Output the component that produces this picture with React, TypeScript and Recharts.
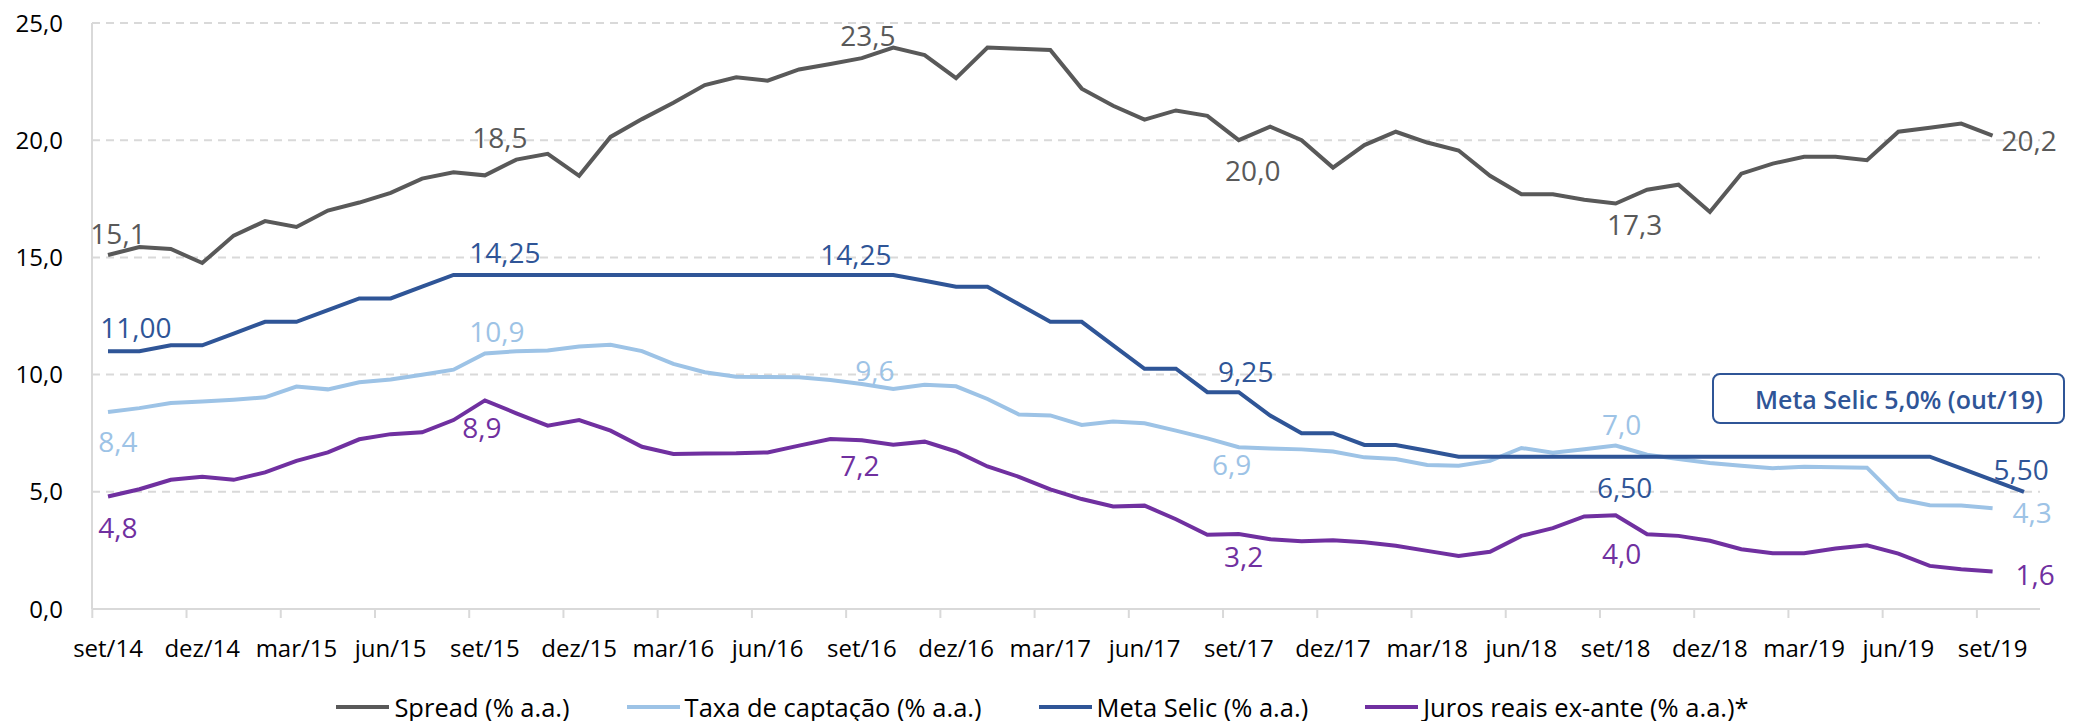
import { LineChart, Line, XAxis, YAxis, CartesianGrid, Legend, LabelList } from 'recharts';

const months = [
  'set/14', 'out/14', 'nov/14', 'dez/14', 'jan/15', 'fev/15', 'mar/15', 'abr/15', 'mai/15', 'jun/15', 'jul/15', 'ago/15',
  'set/15', 'out/15', 'nov/15', 'dez/15', 'jan/16', 'fev/16', 'mar/16', 'abr/16', 'mai/16', 'jun/16', 'jul/16', 'ago/16',
  'set/16', 'out/16', 'nov/16', 'dez/16', 'jan/17', 'fev/17', 'mar/17', 'abr/17', 'mai/17', 'jun/17', 'jul/17', 'ago/17',
  'set/17', 'out/17', 'nov/17', 'dez/17', 'jan/18', 'fev/18', 'mar/18', 'abr/18', 'mai/18', 'jun/18', 'jul/18', 'ago/18',
  'set/18', 'out/18', 'nov/18', 'dez/18', 'jan/19', 'fev/19', 'mar/19', 'abr/19', 'mai/19', 'jun/19', 'jul/19', 'ago/19',
  'set/19', 'out/19',
];

// set/14 .. set/19
const spread = [
  15.1, 15.44, 15.36, 14.76, 15.93, 16.55, 16.3, 17.0, 17.34, 17.75,
  18.36, 18.63, 18.5, 19.17, 19.42, 18.48, 20.14, 20.9, 21.6, 22.35,
  22.68, 22.54, 23.02, 23.25, 23.5, 23.95, 23.63, 22.65, 23.95, 23.9,
  23.85, 22.2, 21.47, 20.88, 21.27, 21.04, 20.0, 20.58, 20.0, 18.83,
  19.79, 20.36, 19.9, 19.56, 18.48, 17.69, 17.69, 17.46, 17.3, 17.89,
  18.1, 16.94, 18.57, 19.0, 19.29, 19.29, 19.15, 20.36, 20.53, 20.71,
  20.2,
];

const captacao = [
  8.4, 8.57, 8.79, 8.85, 8.93, 9.03, 9.49, 9.37, 9.67, 9.79,
  9.99, 10.21, 10.9, 11.0, 11.03, 11.2, 11.27, 11.0, 10.46, 10.1,
  9.91, 9.9, 9.89, 9.77, 9.6, 9.39, 9.57, 9.5, 8.96, 8.3,
  8.26, 7.85, 8.0, 7.92, 7.61, 7.28, 6.9, 6.85, 6.81, 6.72,
  6.47, 6.4, 6.14, 6.11, 6.32, 6.87, 6.67, 6.82, 6.97, 6.58,
  6.4, 6.23, 6.11, 6.01, 6.07, 6.05, 6.03, 4.69, 4.43, 4.42,
  4.3,
];

// set/14 .. out/19
const metaSelic = [
  11.0, 11.0, 11.25, 11.25, 11.75, 12.25, 12.25, 12.75, 13.25, 13.25,
  13.75, 14.25, 14.25, 14.25, 14.25, 14.25, 14.25, 14.25, 14.25, 14.25,
  14.25, 14.25, 14.25, 14.25, 14.25, 14.25, 14.0, 13.75, 13.75, 13.0,
  12.25, 12.25, 11.25, 10.25, 10.25, 9.25, 9.25, 8.25, 7.5, 7.5,
  7.0, 7.0, 6.75, 6.5, 6.5, 6.5, 6.5, 6.5, 6.5, 6.5,
  6.5, 6.5, 6.5, 6.5, 6.5, 6.5, 6.5, 6.5, 6.5, 6.0,
  5.5, 5.0,
];

const jurosReais = [
  4.8, 5.11, 5.51, 5.64, 5.51, 5.83, 6.32, 6.68, 7.24, 7.46,
  7.54, 8.06, 8.9, 8.35, 7.82, 8.06, 7.61, 6.92, 6.61, 6.63,
  6.64, 6.68, 6.97, 7.25, 7.2, 7.01, 7.14, 6.72, 6.08, 5.64,
  5.1, 4.69, 4.37, 4.41, 3.83, 3.17, 3.2, 2.98, 2.89, 2.93,
  2.85, 2.7, 2.48, 2.26, 2.44, 3.12, 3.45, 3.95, 4.0, 3.19,
  3.12, 2.91, 2.55, 2.38, 2.38, 2.58, 2.72, 2.36, 1.84, 1.7,
  1.6,
];

const seriesNames = [
  'Spread (% a.a.)',
  'Taxa de captação (% a.a.)',
  'Meta Selic (% a.a.)',
  'Juros reais ex-ante (% a.a.)*',
];

const yTicks = [0, 5, 10, 15, 20, 25];
const labelIdx = [0, 12, 24, 36, 48, 60];

const data = months.map((month, i) => ({
  month,
  spread: spread[i] ?? null,
  captacao: captacao[i] ?? null,
  selic: metaSelic[i] ?? null,
  juros: jurosReais[i] ?? null,
}));

const FONT = '"Open Sans", "Noto Sans", sans-serif';
const CHART_W = 2095;
const CHART_H = 721;
const PLOT_LEFT = 92;
const PLOT_RIGHT = 2040;
const X_PAD = 16;
const HALF_STEP = (PLOT_RIGHT - PLOT_LEFT - 2 * X_PAD) / (months.length - 1) / 2;
const LINE_W = 4;

const C_SPREAD = '#595959';
const C_CAPT = '#9dc3e6';
const C_SELIC = '#2f5597';
const C_JUROS = '#7030a0';
const C_GRID = '#d9d9d9';

type LabelPos = { dx: number; dy: number; anchor: 'start' | 'middle' | 'end' };

// label offsets from the point, one per entry in labelIdx
const spreadPos: LabelPos[] = [
  { dx: 10, dy: -11, anchor: 'middle' },
  { dx: 15, dy: -27, anchor: 'middle' },
  { dx: 6, dy: -12, anchor: 'middle' },
  { dx: 14, dy: 41, anchor: 'middle' },
  { dx: 19, dy: 32, anchor: 'middle' },
  { dx: 9, dy: 15, anchor: 'start' },
];
const captPos: LabelPos[] = [
  { dx: 10, dy: 40, anchor: 'middle' },
  { dx: 12, dy: -12, anchor: 'middle' },
  { dx: 13, dy: -3, anchor: 'middle' },
  { dx: -7, dy: 28, anchor: 'middle' },
  { dx: 6, dy: -11, anchor: 'middle' },
  { dx: 20, dy: 15, anchor: 'start' },
];
const selicPos: LabelPos[] = [
  { dx: 28, dy: -13, anchor: 'middle' },
  { dx: 20, dy: -12, anchor: 'middle' },
  { dx: -6, dy: -10, anchor: 'middle' },
  { dx: 7, dy: -10, anchor: 'middle' },
  { dx: 9, dy: 41, anchor: 'middle' },
  { dx: 1, dy: 0, anchor: 'start' },
];
const jurosPos: LabelPos[] = [
  { dx: 10, dy: 42, anchor: 'middle' },
  { dx: -3, dy: 38, anchor: 'middle' },
  { dx: -2, dy: 36, anchor: 'middle' },
  { dx: 5, dy: 33, anchor: 'middle' },
  { dx: 6, dy: 49, anchor: 'middle' },
  { dx: 23, dy: 14, anchor: 'start' },
];

const fmt = (v: number, digits: number) => v.toFixed(digits).replace('.', ',');

function makeLabel(positions: LabelPos[], color: string, digits: number) {
  return (props: any) => {
    const { x, y, value, index } = props;
    const k = labelIdx.indexOf(index);
    if (k < 0 || value == null || x == null || y == null) return null;
    const p = positions[k];
    return (
      <text x={x + p.dx} y={y + p.dy} textAnchor={p.anchor} fontSize={28} fill={color} fontFamily={FONT}>
        {fmt(Number(value), digits)}
      </text>
    );
  };
}

function MonthTick(props: any) {
  const { x, y, payload } = props;
  return (
    <g>
      <line x1={x - HALF_STEP} x2={x - HALF_STEP} y1={y} y2={y + 9} stroke={C_GRID} strokeWidth={2} />
      <text x={x} y={y + 48} textAnchor="middle" fontSize={24} fill="#000" fontFamily={FONT}>
        {payload.value}
      </text>
    </g>
  );
}

function renderLegend(props: any) {
  const items = [...(props.payload || [])].sort(
    (a: any, b: any) => seriesNames.indexOf(a.value) - seriesNames.indexOf(b.value),
  );
  return (
    <div
      style={{
        display: 'flex',
        justifyContent: 'center',
        alignItems: 'center',
        gap: 57,
        fontFamily: FONT,
        fontSize: 25.5,
        color: '#000',
      }}
    >
      {items.map((e: any) => (
        <div key={e.value} style={{ display: 'flex', alignItems: 'center' }}>
          <span style={{ display: 'inline-block', width: 53, height: 4, background: e.color, marginRight: 5 }} />
          <span>{e.value}</span>
        </div>
      ))}
    </div>
  );
}

export default function App() {
  return (
    <div style={{ position: 'relative', width: CHART_W, height: CHART_H, background: '#fff' }}>
      <style>{'body{margin:0}'}</style>
      <LineChart
        width={CHART_W}
        height={CHART_H}
        data={data}
        margin={{ top: 23, right: CHART_W - PLOT_RIGHT, left: 0, bottom: 0 }}
        style={{ fontFamily: FONT }}
      >
        <CartesianGrid vertical={false} stroke={C_GRID} strokeWidth={2} strokeDasharray="8 6" />
        <XAxis
          dataKey="month"
          interval={2}
          padding={{ left: X_PAD, right: X_PAD }}
          height={CHART_H - 609}
          axisLine={{ stroke: C_GRID, strokeWidth: 2 }}
          tickLine={false}
          tickSize={0}
          tickMargin={0}
          tick={<MonthTick />}
        />
        <YAxis
          width={PLOT_LEFT}
          domain={[0, 25]}
          ticks={yTicks}
          tickFormatter={(v) => fmt(Number(v), 1)}
          axisLine={{ stroke: C_GRID, strokeWidth: 2 }}
          tickLine={false}
          tickSize={0}
          tickMargin={29}
          tick={{ fill: '#000', fontSize: 24, fontFamily: FONT }}
        />
        <Legend
          layout="horizontal"
          verticalAlign="middle"
          align="center"
          content={renderLegend}
          wrapperStyle={{ top: 690, left: 0, width: 2085 }}
        />
        <Line name={seriesNames[0]} dataKey="spread" stroke={C_SPREAD} strokeWidth={LINE_W} dot={false} activeDot={false} isAnimationActive={false}>
          <LabelList dataKey="spread" content={makeLabel(spreadPos, C_SPREAD, 1)} />
        </Line>
        <Line name={seriesNames[1]} dataKey="captacao" stroke={C_CAPT} strokeWidth={LINE_W} dot={false} activeDot={false} isAnimationActive={false}>
          <LabelList dataKey="captacao" content={makeLabel(captPos, C_CAPT, 1)} />
        </Line>
        <Line name={seriesNames[2]} dataKey="selic" stroke={C_SELIC} strokeWidth={LINE_W} dot={false} activeDot={false} isAnimationActive={false}>
          <LabelList dataKey="selic" content={makeLabel(selicPos, C_SELIC, 2)} />
        </Line>
        <Line name={seriesNames[3]} dataKey="juros" stroke={C_JUROS} strokeWidth={LINE_W} dot={false} activeDot={false} isAnimationActive={false}>
          <LabelList dataKey="juros" content={makeLabel(jurosPos, C_JUROS, 1)} />
        </Line>
      </LineChart>
      <div
        style={{
          position: 'absolute',
          left: 1712,
          top: 373,
          width: 353,
          height: 51,
          boxSizing: 'border-box',
          border: `2px solid ${C_SELIC}`,
          borderRadius: 8,
          background: '#fff',
          display: 'flex',
          alignItems: 'center',
          justifyContent: 'flex-end',
          paddingRight: 20,
          fontFamily: FONT,
          fontSize: 25,
          fontWeight: 600,
          color: C_SELIC,
        }}
      >
        Meta Selic 5,0% (out/19)
      </div>
    </div>
  );
}
